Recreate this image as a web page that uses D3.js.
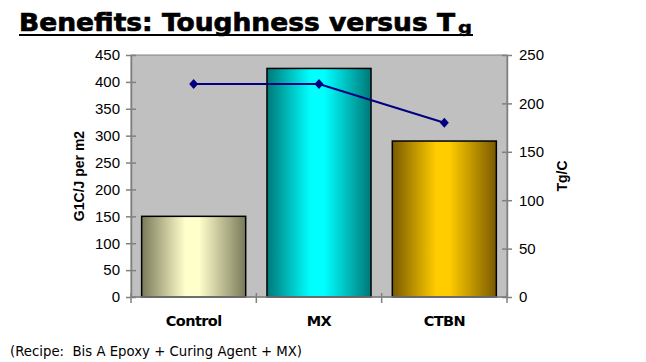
<!DOCTYPE html>
<html><head><meta charset="utf-8">
<script src="https://cdn.jsdelivr.net/npm/d3@7"></script>
<style>body{margin:0;background:#fff}svg{display:block}</style>
</head><body>
<svg id="c" width="646" height="362"></svg>
<script>
const categories = ["Control", "MX", "CTBN"];
const toughness = [150, 425, 290];      // G1C J/m2 (bars, left axis)
const tg = [220, 220, 180];             // Tg °C (line, right axis)
const leftTicks = [0, 50, 100, 150, 200, 250, 300, 350, 400, 450];
const rightTicks = [0, 50, 100, 150, 200, 250];
const barGrad = [
  ["#7a7a5a", "#ffffcc", "#7a7a5a"],
  ["#007878", "#00ffff", "#007878"],
  ["#7a5a00", "#ffcc00", "#7a5a00"]
];

const svg = d3.select("#c");
const L = 131, R = 507, T = 55, B = 297;

const x = d3.scaleBand().domain(categories).range([L, R]).paddingInner(0.17).paddingOuter(0.085);
const yL = d3.scaleLinear().domain([0, 450]).range([B, T]);
const yR = d3.scaleLinear().domain([0, 250]).range([B, T]);

const defs = svg.append("defs");
barGrad.forEach((g, i) => {
  const lg = defs.append("linearGradient").attr("id", "g" + i).attr("x1", "0").attr("x2", "1").attr("y1", "0").attr("y2", "0");
  lg.append("stop").attr("offset", "0").attr("stop-color", g[0]);
  lg.append("stop").attr("offset", "0.42").attr("stop-color", g[1]);
  lg.append("stop").attr("offset", "0.55").attr("stop-color", g[1]);
  lg.append("stop").attr("offset", "1").attr("stop-color", g[2]);
});

// title
svg.append("text").attr("x", 19).attr("y", 31)
  .attr("font-family", "DejaVu Sans").attr("font-weight", "bold").attr("font-size", 25)
  .attr("fill", "#000").attr("stroke", "#000").attr("stroke-width", 0.7)
  .attr("textLength", 436).attr("lengthAdjust", "spacingAndGlyphs")
  .text("Benefits: Toughness versus T");
svg.append("text").attr("x", 458).attr("y", 33)
  .attr("font-family", "DejaVu Sans").attr("font-weight", "bold").attr("font-size", 15)
  .attr("stroke", "#000").attr("stroke-width", 0.4)
  .attr("textLength", 14).attr("lengthAdjust", "spacingAndGlyphs").text("g");
svg.append("rect").attr("x", 19).attr("y", 34).attr("width", 454).attr("height", 2).attr("fill", "#000");

// plot area
svg.append("rect").attr("x", L).attr("y", T).attr("width", R - L).attr("height", B - T)
  .attr("fill", "#c0c0c0").attr("stroke", "#808080").attr("stroke-width", 1);

// bars
svg.selectAll("rect.bar").data(categories).enter().append("rect").attr("class", "bar")
  .attr("x", d => x(d)).attr("width", x.bandwidth())
  .attr("y", (d, i) => yL(toughness[i])).attr("height", (d, i) => B - yL(toughness[i]))
  .attr("fill", (d, i) => `url(#g${i})`).attr("stroke", "#000").attr("stroke-width", 1.5);

// axes
const axisStyle = g => {
  g.selectAll("path").attr("stroke", "#808080").attr("stroke-width", 1.5);
  g.selectAll("line").attr("stroke", "#808080").attr("stroke-width", 1.5);
  g.selectAll("text").attr("font-family", "Liberation Sans, Arial").attr("font-size", 15).attr("fill", "#000");
};
const gl = svg.append("g").attr("transform", `translate(${L},0)`)
  .call(d3.axisLeft(yL).tickValues(leftTicks).tickSize(5).tickSizeOuter(0).tickPadding(6));
gl.selectAll(".tick line").attr("x1", 5);
axisStyle(gl);
const gr = svg.append("g").attr("transform", `translate(${R},0)`)
  .call(d3.axisRight(yR).tickValues(rightTicks).tickSize(5).tickSizeOuter(0).tickPadding(7));
gr.selectAll(".tick line").attr("x1", -5);
axisStyle(gr);

// category axis
svg.append("line").attr("x1", L).attr("x2", R).attr("y1", B).attr("y2", B).attr("stroke", "#808080").attr("stroke-width", 1.5);
const bounds = d3.range(categories.length + 1).map(i => L + i * (R - L) / categories.length);
svg.selectAll("line.ct").data(bounds).enter().append("line").attr("class", "ct")
  .attr("x1", d => d).attr("x2", d => d).attr("y1", B - 4).attr("y2", B + 6)
  .attr("stroke", "#808080").attr("stroke-width", 1.5);
svg.selectAll("text.cat").data(categories).enter().append("text").attr("class", "cat")
  .attr("x", d => x(d) + x.bandwidth() / 2).attr("y", 326).attr("text-anchor", "middle")
  .attr("font-family", "DejaVu Sans").attr("font-weight", "bold").attr("font-size", 14.5)
  .attr("letter-spacing", -0.6).text(d => d);

// line series
const line = d3.line().x((d, i) => x(categories[i]) + x.bandwidth() / 2).y(d => yR(d));
svg.append("path").datum(tg).attr("d", line).attr("fill", "none").attr("stroke", "#000080").attr("stroke-width", 2);
svg.selectAll("path.mk").data(tg).enter().append("path").attr("class", "mk")
  .attr("transform", (d, i) => `translate(${x(categories[i]) + x.bandwidth() / 2},${yR(d)})`)
  .attr("d", "M0,-5L4.5,0L0,5L-4.5,0Z").attr("fill", "#000080");

// axis titles
svg.append("text").attr("transform", `translate(84,${(T + B) / 2}) rotate(-90)`).attr("text-anchor", "middle")
  .attr("font-family", "Liberation Sans, Arial").attr("font-weight", "bold").attr("font-size", 14).text("G1C/J per m2");
svg.append("text").attr("transform", `translate(567,${(T + B) / 2}) rotate(-90)`).attr("text-anchor", "middle")
  .attr("font-family", "Liberation Sans, Arial").attr("font-weight", "bold").attr("font-size", 14).text("Tg/C");

// footnote
svg.append("text").attr("x", 10).attr("y", 356).attr("font-family", "DejaVu Sans").attr("font-size", 14.5)
  .attr("textLength", 292).attr("lengthAdjust", "spacingAndGlyphs")
  .style("white-space", "pre")
  .text("(Recipe:  Bis A Epoxy + Curing Agent + MX)");
</script>
</body></html>
